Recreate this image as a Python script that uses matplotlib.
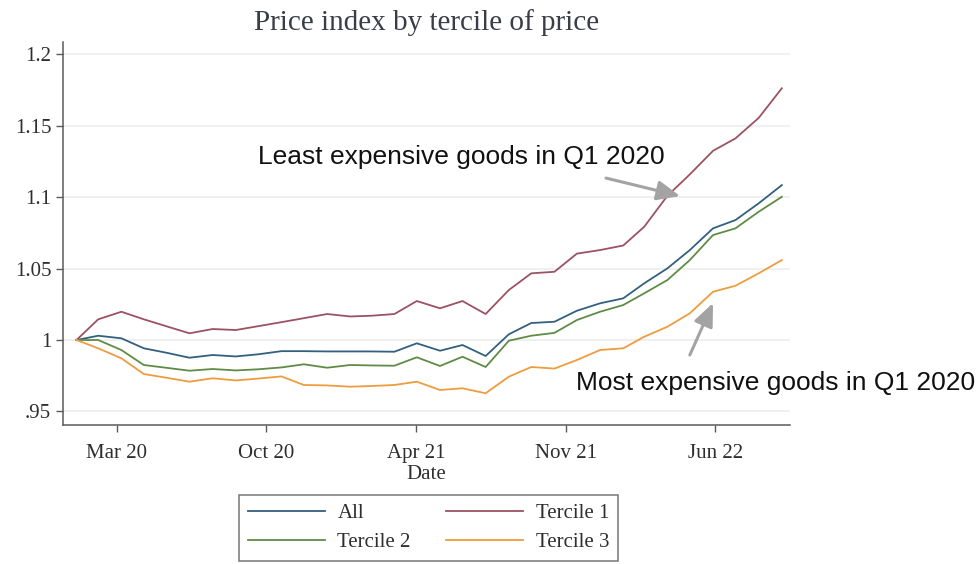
import matplotlib
matplotlib.use('Agg')
import matplotlib.pyplot as plt
import pandas as pd

# monthly price index, base = Q1 2020
months = pd.date_range('2020-02-01', periods=32, freq='MS')

all_goods = [1.0, 1.003, 1.0012, 0.9942, 0.991, 0.9876, 0.9895, 0.9885,
             0.990, 0.9922, 0.9922, 0.992, 0.992, 0.992, 0.9918, 0.9977,
             0.9925, 0.9965, 0.9888, 1.004, 1.0119, 1.0128, 1.0205, 1.0257,
             1.0292, 1.0397, 1.0502, 1.063, 1.0782, 1.084, 1.0957, 1.1085]
tercile1 = [1.0, 1.0145, 1.0198, 1.0145, 1.0095, 1.0047, 1.0077, 1.007,
            1.0097, 1.0125, 1.0153, 1.0182, 1.0165, 1.017, 1.0182, 1.0273,
            1.0222, 1.0273, 1.0182, 1.035, 1.0467, 1.0478, 1.0605, 1.063,
            1.0662, 1.0793, 1.101, 1.116, 1.1325, 1.1412, 1.1555, 1.1763]
tercile2 = [1.0, 1.0, 0.993, 0.9825, 0.9805, 0.9785, 0.9797, 0.9787,
            0.9795, 0.9808, 0.983, 0.9806, 0.9825, 0.9822, 0.982, 0.9879,
            0.9818, 0.9883, 0.9811, 0.9995, 1.003, 1.005, 1.014, 1.0198,
            1.0245, 1.0327, 1.042, 1.056, 1.0735, 1.0782, 1.0898, 1.1003]
tercile3 = [1.0, 0.9942, 0.9872, 0.9762, 0.9735, 0.9708, 0.9732, 0.9717,
            0.973, 0.9745, 0.9685, 0.9682, 0.9673, 0.9678, 0.9685, 0.9708,
            0.965, 0.9662, 0.9627, 0.9743, 0.9811, 0.980, 0.986, 0.993,
            0.9942, 1.0023, 1.0093, 1.0187, 1.0338, 1.038, 1.0467, 1.056]

xtick_dates = pd.to_datetime(['2020-03-26', '2020-10-12', '2021-04-30',
                              '2021-11-16', '2022-06-04'])
xtick_labels = ['Mar 20', 'Oct 20', 'Apr 21', 'Nov 21', 'Jun 22']
ytick_vals = [0.95, 1.0, 1.05, 1.1, 1.15, 1.2]
ytick_labels = ['.95', '1', '1.05', '1.1', '1.15', '1.2']

plt.rcParams['font.family'] = ['Liberation Serif', 'DejaVu Serif']
txt = '#2e2e2e'
axc = '#5a5a5a'

fig = plt.figure(figsize=(9.79, 5.64), dpi=100)
ax = fig.add_axes([0.0644, 0.2465, 0.7426, 0.679])

lw = 1.3
l_all, = ax.plot(months, all_goods, color='#33607f', lw=lw, label='All')
l_t1, = ax.plot(months, tercile1, color='#9c5262', lw=lw, label='Tercile 1')
l_t2, = ax.plot(months, tercile2, color='#5f8c45', lw=lw, label='Tercile 2')
l_t3, = ax.plot(months, tercile3, color='#ee9c3e', lw=lw, label='Tercile 3')

ax.set_ylim(0.9405, 1.2087)
ax.set_xlim(pd.Timestamp('2020-01-14'), pd.Timestamp('2022-09-12'))
ax.set_yticks(ytick_vals)
ax.set_yticklabels(ytick_labels)
ax.set_xticks(xtick_dates)
ax.set_xticklabels(xtick_labels)
ax.tick_params(axis='both', labelsize=15, colors=axc, labelcolor=txt,
               length=5, width=1, direction='out')
ax.tick_params(axis='x', pad=9)
ax.yaxis.grid(True, color='#ececec', lw=1.1)
ax.set_axisbelow(True)
for s in ['top', 'right']:
    ax.spines[s].set_visible(False)
for s in ['left', 'bottom']:
    ax.spines[s].set_color(axc)
    ax.spines[s].set_linewidth(1.1)

ax.set_xlabel('Date', fontsize=15, color=txt, labelpad=1)
ax.set_title('Price index by tercile of price', fontsize=21, color='#3a3d48', pad=9)

# annotations
sans = ['Liberation Sans', 'DejaVu Sans']
arrow = dict(arrowstyle='-|>,head_length=1.4,head_width=0.6',
             color='#a3a3a3', lw=2.2, shrinkA=0, shrinkB=0)
ax.text(pd.Timestamp('2021-06-30'), 1.128, 'Least expensive goods in Q1 2020',
        family=sans, fontsize=19, color='#111111', ha='center', va='center')
ax.annotate('', xy=(pd.Timestamp('2022-04-18'), 1.1008),
            xytext=(pd.Timestamp('2022-01-09'), 1.1134), arrowprops=arrow)
ax.text(pd.Timestamp('2021-11-30'), 0.970, 'Most expensive goods in Q1 2020',
        family=sans, fontsize=19, color='#111111', ha='left', va='center')
ax.annotate('', xy=(pd.Timestamp('2022-06-01'), 1.0259),
            xytext=(pd.Timestamp('2022-05-01'), 0.9895), arrowprops=arrow)

leg = fig.legend([l_all, l_t2, l_t1, l_t3],
                 ['All', 'Tercile 2', 'Tercile 1', 'Tercile 3'],
                 ncol=2, loc='upper center', bbox_to_anchor=(428.5 / 979, 1 - 495 / 564),
                 fontsize=15, frameon=True, fancybox=False, handlelength=3.7,
                 handletextpad=0.6, columnspacing=1.7, labelspacing=0.45,
                 borderpad=0.42, borderaxespad=0)
leg.get_frame().set_edgecolor('#555555')
leg.get_frame().set_linewidth(1.1)
for t in leg.get_texts():
    t.set_color(txt)

plt.savefig('out.png', dpi=100)
